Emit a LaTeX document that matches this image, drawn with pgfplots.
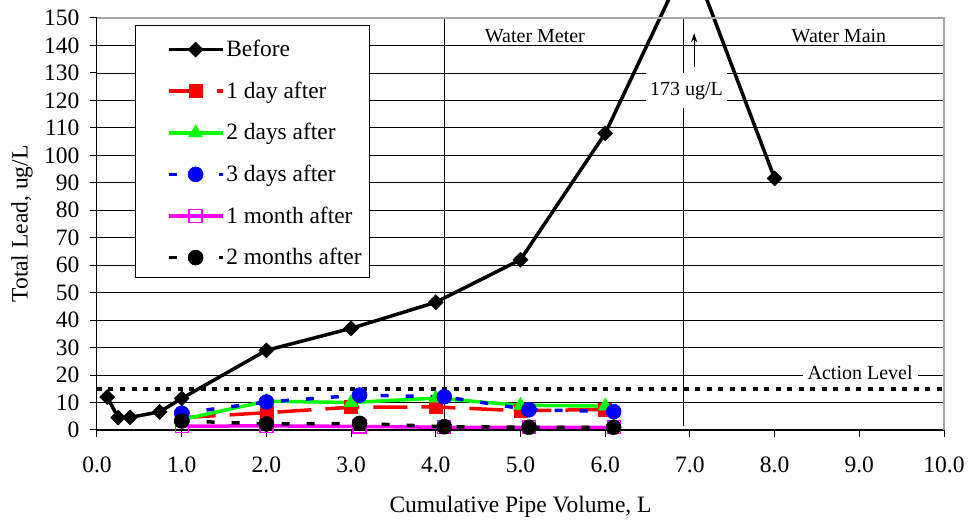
\documentclass[border=0pt]{standalone}
\usepackage{fontspec}
\setmainfont{Liberation Serif}
\usepackage{pgfplots}
\pgfplotsset{compat=1.18}
\usetikzlibrary{arrows.meta}

\definecolor{xlred}{RGB}{255,0,0}
\definecolor{xlgreen}{RGB}{0,255,0}
\definecolor{xlblue}{RGB}{0,0,255}
\definecolor{xlmag}{RGB}{255,0,255}

\newcommand{\bigf}{\fontsize{23.5}{28}\selectfont}
\newcommand{\smf}{\fontsize{20}{24}\selectfont}

\begin{document}
\begin{tikzpicture}
\useasboundingbox (-97pt,-91pt) rectangle (874pt,430pt);
\clip (-97pt,-91pt) rectangle (874pt,430pt);
\begin{axis}[
  at={(0pt,0pt)}, anchor=south west,
  scale only axis, width=847pt, height=412pt,
  xmin=0, xmax=10, ymin=0, ymax=150,
  xtick={0,1,...,10}, ytick={0,10,...,150},
  axis x line*=bottom, axis y line*=left,
  axis line style={-, black, line width=1pt},
  tick align=outside, major tick length=7pt,
  tick style={black, line width=1pt},
  ymajorgrids, grid style={black, line width=0.8pt},
  clip=false,
  /pgf/number format/assume math mode=true,
  tick label style={font=\bigf},
  xticklabel style={yshift=-16pt, /pgf/number format/.cd, fixed, fixed zerofill, precision=1},
  yticklabel style={xshift=-7pt, /pgf/number format/.cd, fixed, precision=0},
  xlabel={Cumulative Pipe Volume, L},
  ylabel={Total Lead, ug/L},
  every axis x label/.style={at={(axis description cs:0.5,-0.187)}, anchor=center, font=\bigf},
  every axis y label/.style={at={(axis description cs:-0.0885,0.5)}, anchor=center, rotate=90, font=\bigf},
  legend style={at={(rel axis cs:0.0449,0.983)}, anchor=north west, draw=black, line width=1.2pt, fill=white,
    font=\fontsize{23.4}{28}\selectfont, inner xsep=6pt, inner ysep=8pt, row sep=13.6pt, column sep=0pt,
    nodes={inner sep=2pt, text height=17pt, text depth=3pt, anchor=west}},
  legend image code/.code={\path[draw=none, fill=none] (-27pt,-1pt) rectangle (-26pt,16pt);
    \draw[mark repeat=2,mark phase=2,#1] plot coordinates {(0pt,0pt) (27pt,0pt) (54pt,0pt)};},
]
% reference lines
\addplot[forget plot, black, line width=1.2pt] coordinates {(4.1,0) (4.1,150)};
\addplot[forget plot, black, line width=1.2pt] coordinates {(6.92,1.5) (6.92,150)};
\addplot[forget plot, black, line width=4.5pt, dash pattern=on 5pt off 6.5pt] coordinates {(0,15) (10,15)};

% series
\addplot[black, line width=3.5pt, mark=square*, mark size=5.3pt, mark options={rotate=45, solid, line width=0.5pt}]
  coordinates {(0.12,12) (0.25,4.5) (0.39,4.6) (0.74,6.6) (1.0,11.5) (2.0,29) (3.0,37) (4.0,46.5) (5.0,62) (6.0,108) (7.0,173) (8.0,91.6)};
\addlegendentry{Before}
\addplot[xlred, line width=3.5pt, dash pattern=on 34pt off 14pt, mark=square*, mark size=6.5pt, mark options={solid, line width=0.5pt}]
  coordinates {(1.0,4.5) (2.0,6.3) (3.0,8.3) (4.0,8.4) (5.0,7) (6.0,7.5)};
\addlegendentry{1 day after}
\addplot[xlgreen, line width=3.5pt, mark=triangle*, mark size=8pt, mark options={solid, line width=0.5pt}]
  coordinates {(1.0,3.8) (2.0,10.5) (3.0,10) (4.0,11.6) (5.0,9) (6.0,8.7)};
\addlegendentry{2 days after}
\addplot[xlblue, line width=3.5pt, dash pattern=on 8pt off 17pt, mark=*, mark size=7.5pt, mark options={solid, line width=0.5pt}]
  coordinates {(1.0,6.1) (2.0,10.2) (3.1,12.7) (4.1,12.1) (5.1,7.4) (6.1,6.7)};
\addlegendentry{3 days after}
\addplot[xlmag, line width=3.5pt, mark=square, mark size=6.5pt, mark options={solid, line width=1.3pt}]
  coordinates {(1.0,1.4) (2.0,1.5) (3.1,1.3) (4.1,1.0) (5.1,1.0) (6.1,1.0)};
\addlegendentry{1 month after}
\addplot[black, line width=3.5pt, dash pattern=on 8pt off 17pt, mark=*, mark size=7.5pt, mark options={solid, line width=0.5pt}]
  coordinates {(1.0,3.3) (2.0,2.2) (3.1,2.4) (4.1,1.2) (5.1,1.0) (6.1,1.0)};
\addlegendentry{2 months after}

% annotations
\addplot[forget plot, black, line width=1.2pt, -{Stealth[length=9pt,width=6pt]}] coordinates {(7.05,132.1) (7.05,144.5)};
\node[font=\smf, anchor=base] at (axis cs:5.17,141) {Water Meter};
\node[font=\smf, anchor=base] at (axis cs:8.76,141) {Water Main};
\node[font=\smf, anchor=base, fill=white, inner xsep=5pt, inner ysep=3pt] at (axis cs:9.01,18.46) {Action Level};
\node[font=\smf, anchor=base, fill=white, inner xsep=4pt, inner ysep=9pt] at (axis cs:6.96,121.95) {173 ug/L};
\draw[gray!70, line width=1.2pt] (rel axis cs:0,1) -- (rel axis cs:1,1) -- (rel axis cs:1,0);
\end{axis}
\end{tikzpicture}
\end{document}
